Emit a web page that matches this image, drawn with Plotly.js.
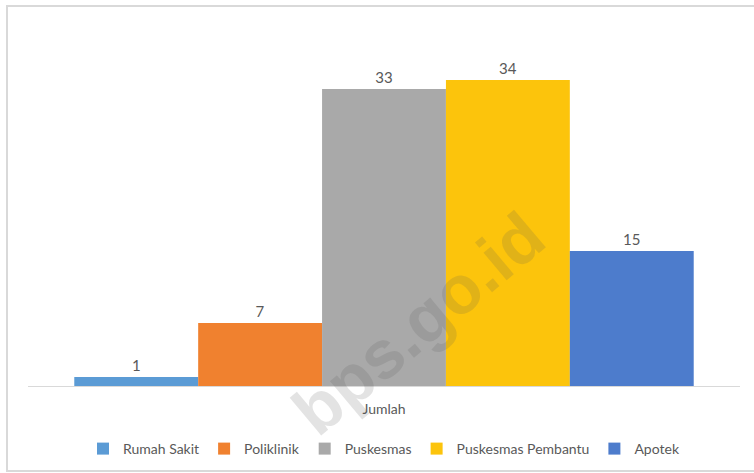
<!DOCTYPE html>
<html>
<head>
<meta charset="utf-8">
<script src="https://cdn.plot.ly/plotly-3.0.1.min.js"></script>
<style>html,body{margin:0;padding:0;background:#fff;}#chart{width:754px;height:473px;}</style>
</head>
<body>
<div id="chart"></div>
<script>
const category = ["Jumlah"];
const seriesNames = ["Rumah Sakit", "Poliklinik", "Puskesmas", "Puskesmas Pembantu", "Apotek"];
const seriesValues = [1, 7, 33, 34, 15];
const seriesColors = ["#5b9bd5", "#f0812f", "#a9a9a9", "#fcc40c", "#4d7ccc"];

const traces = seriesNames.map((name, i) => ({
  type: "bar",
  name: name,
  x: category,
  y: [seriesValues[i]],
  text: [String(seriesValues[i])],
  textposition: "outside",
  cliponaxis: false,
  textfont: {family: "Lato, 'Open Sans', sans-serif", size: 15, color: "#595959"},
  marker: {color: seriesColors[i], line: {width: 10, color: "rgba(0,0,0,0)"}},
  hoverinfo: "none"
}));

const layout = {
  width: 754, height: 473,
  margin: {l: 28, r: 14, t: 26, b: 87, autoexpand: false},
  paper_bgcolor: "#ffffff",
  plot_bgcolor: "#ffffff",
  barmode: "group",
  bargap: 0.13,
  bargroupgap: 0,
  font: {family: "Lato, 'Open Sans', sans-serif", size: 14, color: "#595959"},
  showlegend: true,
  legend: {orientation: "h", x: 0.5, xanchor: "center", y: -0.175, yanchor: "middle",
           font: {size: 14, color: "#595959"}, traceorder: "normal", itemwidth: 30},
  xaxis: {showline: true, linecolor: "#d9d9d9", linewidth: 1, ticks: "", showgrid: false,
          zeroline: false, tickfont: {size: 14, color: "#595959"}, ticklabelstandoff: 10, fixedrange: true},
  yaxis: {range: [0, 40], visible: false, showgrid: false, zeroline: false, fixedrange: true},
  shapes: [
    {type: "rect", xref: "paper", yref: "paper", x0: -0.0295, x1: 1.05, y0: -0.236, y1: 1.0556,
     line: {color: "#d9d9d9", width: 2}, fillcolor: "rgba(0,0,0,0)", layer: "below"}
  ],
  annotations: [
    {text: "<b>bps.go.id</b>", xref: "paper", yref: "paper", x: 0.548, y: 0.175,
     xanchor: "center", yanchor: "middle", showarrow: false,
     textangle: -40, font: {family: "Liberation Sans, Arial, sans-serif", size: 68, color: "rgba(90,90,90,0.17)"}}
  ]
};

Plotly.newPlot("chart", traces, layout, {displayModeBar: false, staticPlot: true});
</script>
</body>
</html>
